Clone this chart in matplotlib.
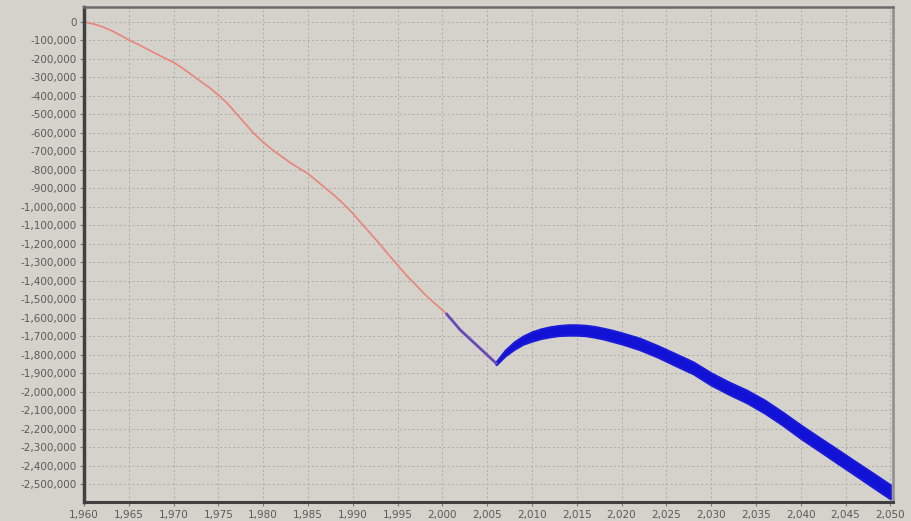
import numpy as np
import matplotlib
matplotlib.use('Agg')
import matplotlib.pyplot as plt
import matplotlib.ticker as plticker

# historische Werte (rot)
hist_years = [1960, 1961, 1962, 1963, 1964, 1965, 1966, 1967, 1968, 1969,
              1970, 1971, 1972, 1973, 1974, 1975, 1976, 1977, 1978, 1979,
              1980, 1981, 1982, 1983, 1984, 1985, 1986, 1987, 1988, 1989,
              1990, 1991, 1992, 1993, 1994, 1995, 1996, 1997, 1998, 1999,
              2000, 2000.5]
hist_vals = [0, -10000, -25000, -45000, -70000, -97000, -120000, -145000, -170000, -195000,
             -218000, -250000, -285000, -320000, -355000, -395000, -440000, -495000, -550000, -605000,
             -650000, -690000, -725000, -760000, -790000, -820000, -860000, -900000, -940000, -985000,
             -1035000, -1090000, -1145000, -1200000, -1258000, -1314000, -1370000, -1420000, -1470000, -1515000,
             -1557000, -1580000]

# Uebergang (lila)
mid_years = [2000.5, 2002, 2004, 2006]
mid_vals = [-1580000, -1665000, -1755000, -1845000]

# Prognose (blau), Mitte und halbe Bandbreite
prog_years = [2006, 2007, 2008, 2009, 2010, 2011, 2012, 2013, 2014, 2015, 2016, 2017, 2018, 2019,
              2020, 2022, 2024, 2026, 2028, 2030, 2032, 2034, 2036, 2038, 2040, 2042, 2044, 2046,
              2048, 2050]
prog_vals = [-1845000, -1790000, -1750000, -1720000, -1700000, -1685000, -1675000, -1668000,
             -1665000, -1665000, -1668000, -1675000, -1685000, -1697000, -1710000, -1740000,
             -1780000, -1825000, -1870000, -1930000, -1980000, -2025000, -2080000, -2145000,
             -2215000, -2280000, -2345000, -2410000, -2475000, -2540000]
prog_spread = [8000, 15000, 20000, 22000, 25000, 26000, 27000, 27000, 28000, 28000, 28000, 29000,
               29000, 30000, 30000, 31000, 31000, 32000, 32000, 33000, 33000, 34000, 35000, 35000,
               36000, 36000, 37000, 37000, 38000, 38000]

bg = '#d5d2cb'
fig = plt.figure(figsize=(9.12, 5.21), dpi=100, facecolor=bg)
ax = fig.add_axes([84/912, 1 - 502/521, (893 - 84)/912, (502 - 7)/521])
ax.set_facecolor(bg)

ax.grid(True, color='#ababab', linestyle=(0, (2, 2.5)), linewidth=0.7)
ax.set_axisbelow(True)

ax.plot(hist_years, hist_vals, color='#e8847a', linewidth=1.2)
ax.plot(mid_years, mid_vals, color='#6a48b8', linewidth=2)

pv = np.array(prog_vals)
ps = np.array(prog_spread)
ax.fill_between(prog_years, pv - ps, pv + ps, color='#1212d6', linewidth=1.5, edgecolor='#1a1ad8')

ax.set_xlim(1960, 2050.3)
ax.set_ylim(-2595000, 81000)
ax.xaxis.set_major_locator(plticker.MultipleLocator(5))
ax.yaxis.set_major_locator(plticker.MultipleLocator(100000))
ax.xaxis.set_major_formatter(plticker.FuncFormatter(lambda v, p: f'{int(round(v)):,}'))
ax.yaxis.set_major_formatter(plticker.FuncFormatter(lambda v, p: f'{int(round(v)):,}'))

ax.tick_params(axis='both', labelsize=7.5, labelcolor='#5a5a5a', color='#7a7a7a',
               length=3, width=0.8, direction='out')
ax.tick_params(axis='y', pad=2)
ax.tick_params(axis='x', pad=3)

ax.spines['left'].set_color('#404040')
ax.spines['left'].set_linewidth(2.5)
ax.spines['bottom'].set_color('#404040')
ax.spines['bottom'].set_linewidth(2.2)
ax.spines['top'].set_color('#6c6c6c')
ax.spines['top'].set_linewidth(1.8)
ax.spines['right'].set_color('#8c8c8c')
ax.spines['right'].set_linewidth(1.8)

fig.savefig('out.png', dpi=100, facecolor=bg)
